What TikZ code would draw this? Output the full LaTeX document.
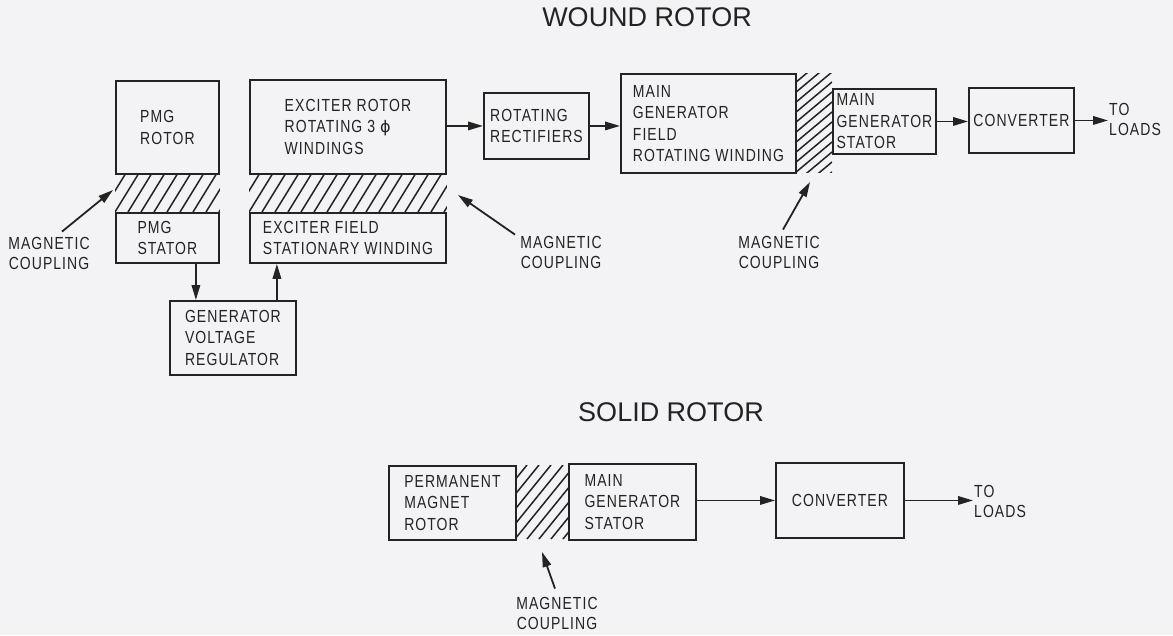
\documentclass[tikz,border=0pt]{standalone}
\usepackage{fontspec}
\setmainfont{Liberation Sans}
\newfontfamily\boxfont{Liberation Sans}[FakeStretch=0.8, LetterSpace=6]
\newfontfamily\phifont{DejaVu Sans}
\usetikzlibrary{arrows.meta}
\definecolor{bg}{RGB}{243,243,245}
\definecolor{ink}{RGB}{35,35,35}
\tikzset{
  blk/.style={draw=ink, line width=1.9pt, anchor=north west, inner sep=0pt, align=left,
    font=\boxfont\fontsize{17.5}{21.5}\selectfont, text=ink},
  lbl/.style={align=center, font=\boxfont\fontsize{17.5}{20}\selectfont, text=ink, inner sep=1pt},
  ttl/.style={font=\fontsize{27}{30}\selectfont, text=ink},
  arr/.style={draw=ink, line width=1.8pt, -{Triangle[length=15pt,width=8.5pt]}},
  hatch/.style={draw=ink, line width=1.5pt}
}
\begin{document}
\begin{tikzpicture}[x=1pt,y=-1pt]
\fill[bg] (0,0) rectangle (1173,635);
\useasboundingbox (0,0) rectangle (1173,635);

% ---------- WOUND ROTOR ----------
\node[ttl] (t1) at (647,17) {WOUND ROTOR};

\node[blk, minimum width=103pt, minimum height=93pt] (pmgr) at (115,80) {PMG\\ROTOR};
\node[blk, minimum width=103pt, minimum height=50pt] (pmgs) at (115,212) {PMG\\STATOR};
\node[blk, minimum width=196pt, minimum height=94pt] (exr) at (249,79) {EXCITER ROTOR\\ROTATING 3 {\phifont\fontsize{16}{21}\selectfont ϕ}\\WINDINGS};
\node[blk, minimum width=196pt, minimum height=50pt] (exf) at (249,212) {EXCITER FIELD\\STATIONARY WINDING};
\node[blk, minimum width=126pt, minimum height=74pt] (gvr) at (169,300) {GENERATOR\\VOLTAGE\\REGULATOR};
\node[blk, minimum width=105pt, minimum height=66pt] (rr) at (483,92) {ROTATING\\RECTIFIERS};
\node[blk, minimum width=175pt, minimum height=99pt] (mgf) at (620,73) {MAIN\\GENERATOR\\FIELD\\ROTATING WINDING};
\node[blk, minimum width=103pt, minimum height=65pt] (mgs) at (832,88) {MAIN\\GENERATOR\\STATOR};
\node[blk, minimum width=105pt, minimum height=65pt, align=center] (conv) at (968,87) {CONVERTER};
\node[lbl, anchor=west, align=left] (loads) at (1108,119) {TO\\LOADS};

% hatching
\begin{scope}
  \clip (pmgr.south west) rectangle (pmgs.north east);
  \foreach \x in {89,102,...,230} \draw[hatch] (\x,212) -- (\x+24,173);
\end{scope}
\begin{scope}
  \clip (exr.south west) rectangle (exf.north east);
  \foreach \x in {223,236,...,458} \draw[hatch] (\x,212) -- (\x+24,173);
\end{scope}
\begin{scope}
  \clip (mgf.north east) rectangle (832,172);
  \foreach \y in {73,83,...,213} \draw[hatch] (795,\y) -- (832,\y-31);
\end{scope}

% connectors
\draw[arr] (exr.east |- rr.west) -- (rr.west);
\draw[arr] (rr.east) -- (rr.east -| mgf.west);
\draw[arr] (mgs.east) -- (mgs.east -| conv.west);
\draw[arr] (conv.east) -- (conv.east -| loads.west);
\draw[arr] ([xshift=-24pt]pmgs.south east) -- ([xshift=-24pt]pmgs.south east |- gvr.north);
\draw[arr] ([xshift=-20pt]gvr.north east) -- ([xshift=-20pt]gvr.north east |- exf.south);

% magnetic coupling labels
\node[lbl] (mc1) at (49,253) {MAGNETIC\\COUPLING};
\coordinate (mc1t) at (113,190);
\draw[arr] ([xshift=13pt,yshift=4pt]mc1.north) -- (mc1t);
\node[lbl] (mc2) at (561,252) {MAGNETIC\\COUPLING};
\coordinate (mc2t) at (458,195);
\draw[arr] ([xshift=-46pt,yshift=0pt]mc2.north) -- (mc2t);
\node[lbl] (mc3) at (779,252) {MAGNETIC\\COUPLING};
\coordinate (mc3t) at (810,182);
\draw[arr] ([xshift=4pt,yshift=5pt]mc3.north) -- (mc3t);

% ---------- SOLID ROTOR ----------
\node[ttl] (t2) at (671,412) {SOLID ROTOR};

\node[blk, minimum width=127pt, minimum height=74pt] (pmr) at (388,465) {PERMANENT\\MAGNET\\ROTOR};
\node[blk, minimum width=127pt, minimum height=76pt] (mgs2) at (568,463) {MAIN\\GENERATOR\\STATOR};
\node[blk, minimum width=128pt, minimum height=75pt, align=center] (conv2) at (775,462) {CONVERTER};
\node[lbl, anchor=west, align=left] (loads2) at (973,501) {TO\\LOADS};

\begin{scope}
  \clip (pmr.north east) rectangle (mgs2.south west |- pmr.south east);
  \foreach \x in {443,455,...,590} \draw[hatch] (\x,539) -- (\x+60,465);
\end{scope}

\draw[arr] (mgs2.east |- conv2.west) -- (conv2.west);
\draw[arr] (conv2.east) -- (conv2.east -| loads2.west);

\node[lbl] (mc4) at (557,613) {MAGNETIC\\COUPLING};
\coordinate (mc4t) at (542,552);
\draw[arr] ([xshift=-2pt,yshift=7pt]mc4.north) -- (mc4t);
\end{tikzpicture}
\end{document}
